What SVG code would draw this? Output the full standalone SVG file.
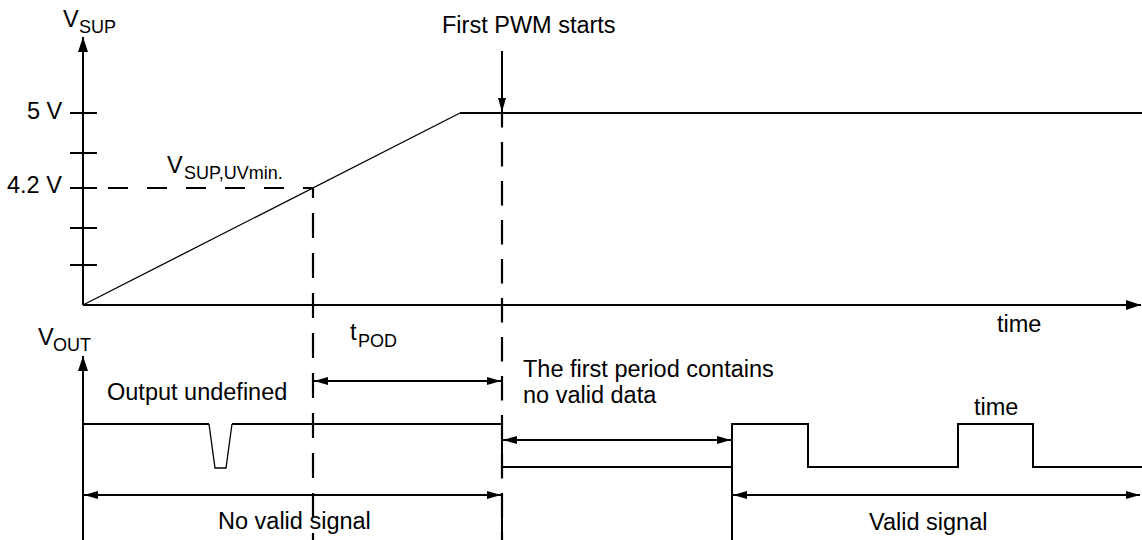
<svg xmlns="http://www.w3.org/2000/svg" width="1142" height="540" viewBox="0 0 1142 540">
<style>
text{font-family:"Liberation Sans",Arial,sans-serif;fill:#000}
.t{font-size:23.5px}
.s{font-size:18px}
.ln{stroke:#000;stroke-width:2;fill:none}
.thin{stroke:#000;stroke-width:1.3;fill:none}
.d1{stroke:#000;stroke-width:2.2;fill:none;stroke-dasharray:25 15;stroke-dashoffset:15}
.d2{stroke:#000;stroke-width:2.2;fill:none;stroke-dasharray:24.5 14.5;stroke-dashoffset:10}
.d3{stroke:#000;stroke-width:2.2;fill:none;stroke-dasharray:20 19}
</style>
<defs>
<marker id="ax" viewBox="0 0 15 10" refX="15" refY="5" markerWidth="15" markerHeight="10" markerUnits="userSpaceOnUse" orient="auto-start-reverse"><path d="M0,0 L15,5 L0,10 z" fill="#000"/></marker>
<marker id="ar" viewBox="0 0 14 8" refX="14" refY="4" markerWidth="14" markerHeight="8" markerUnits="userSpaceOnUse" orient="auto-start-reverse"><path d="M0,0 L14,4 L0,8 z" fill="#000"/></marker>
</defs>

<g id="vsup-axis">
<line class="ln" x1="83" y1="305" x2="83" y2="37" marker-end="url(#ax)"/>
<line class="ln" x1="83" y1="305" x2="1141" y2="305" marker-end="url(#ax)"/>
<line class="ln" x1="70" y1="113" x2="97" y2="113"/>
<line class="ln" x1="70" y1="153" x2="97" y2="153"/>
<line class="ln" x1="70" y1="188" x2="97" y2="188"/>
<line class="ln" x1="70" y1="228" x2="97" y2="228"/>
<line class="ln" x1="70" y1="265" x2="97" y2="265"/>
<text class="t" x="63" y="27">V</text><text class="s" x="79" y="33">SUP</text>
<text class="t" x="27" y="119">5 V</text>
<text class="t" x="7" y="193">4.2 V</text>
<text class="t" x="997" y="332">time</text>
</g>

<g id="vsup-curve">
<polyline class="thin" points="83,305 460,113"/>
<line class="ln" x1="460" y1="113" x2="1142" y2="113"/>
<line class="d3" x1="108" y1="188" x2="313" y2="188"/>
<text class="t" x="167" y="173">V</text><text class="s" x="184" y="179">SUP,UVmin.</text>
</g>

<g id="first-pwm">
<text class="t" x="442" y="33">First PWM starts</text>
<line class="ln" x1="502" y1="51" x2="502" y2="112" marker-end="url(#ar)"/>
</g>

<g id="vout-axis">
<line class="ln" x1="83" y1="540" x2="83" y2="356" marker-end="url(#ax)"/>
<text class="t" x="38" y="345">V</text><text class="s" x="53" y="351">OUT</text>
</g>

<g id="vout-signal">
<polyline class="ln" points="83,424 209,424"/>
<polyline class="thin" points="209,424 215,468 226,468 232,424"/>
<polyline class="ln" points="232,424 502,424 502,467 732,467 732,424 808,424 808,467 958,467 958,424 1033,424 1033,467 1142,467"/>
<text class="t" x="107" y="400">Output undefined</text>
<text class="t" x="974" y="415">time</text>
</g>

<g id="markers-lines">
<line class="d1" x1="313" y1="188" x2="313" y2="540"/>
<line class="d2" x1="502" y1="113" x2="502" y2="540"/>
<line class="ln" x1="502" y1="493" x2="502" y2="540"/>
<line class="ln" x1="732" y1="467" x2="732" y2="540"/>
</g>

<g id="dimensions">
<line class="ln" x1="314" y1="381" x2="501" y2="381" marker-start="url(#ar)" marker-end="url(#ar)"/>
<text class="t" x="350" y="340">t</text><text class="s" x="358" y="347">POD</text>
<line class="ln" x1="503" y1="440" x2="731" y2="440" marker-start="url(#ar)" marker-end="url(#ar)"/>
<text class="t" x="523" y="377">The first period contains</text>
<text class="t" x="523" y="403">no valid data</text>
<line class="ln" x1="84" y1="495" x2="501" y2="495" marker-start="url(#ar)" marker-end="url(#ar)"/>
<text class="t" x="218" y="529">No valid signal</text>
<line class="ln" x1="733" y1="495" x2="1140" y2="495" marker-start="url(#ar)" marker-end="url(#ar)"/>
<text class="t" x="869" y="530">Valid signal</text>
</g>
</svg>
